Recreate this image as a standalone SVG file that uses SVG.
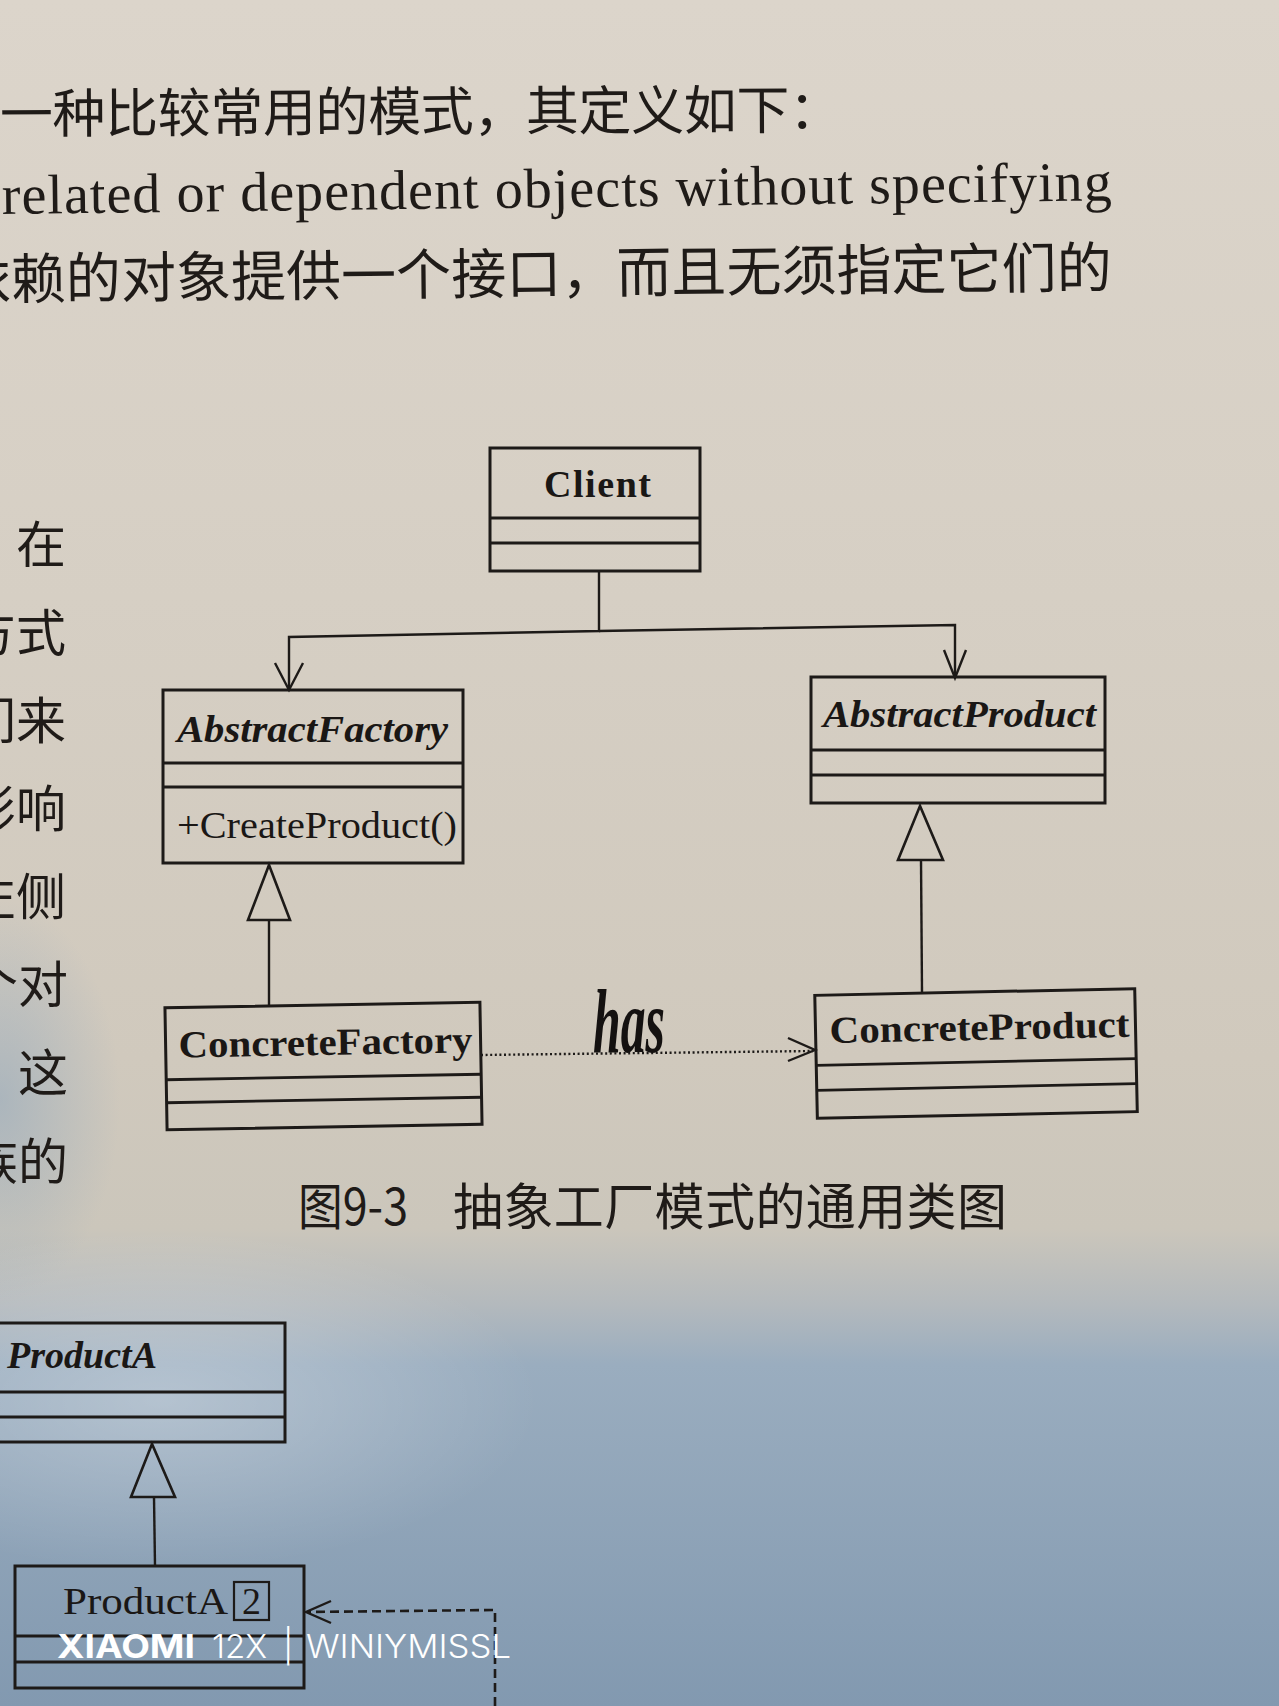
<svg xmlns="http://www.w3.org/2000/svg" width="1279" height="1706" viewBox="0 0 1279 1706">
  <defs>
    <linearGradient id="paper" x1="0" y1="0" x2="0" y2="1">
      <stop offset="0" stop-color="#dcd5cb"/>
      <stop offset="0.35" stop-color="#d6cfc4"/>
      <stop offset="0.62" stop-color="#d0c9bd"/>
      <stop offset="0.72" stop-color="#cbc6bb"/>
      <stop offset="0.765" stop-color="#b3b9bd"/>
      <stop offset="0.80" stop-color="#9aadbf"/>
      <stop offset="1" stop-color="#8299b0"/>
    </linearGradient>
    <radialGradient id="leftShade" cx="0.5" cy="0.5" r="0.5">
      <stop offset="0" stop-color="#8ea6bd" stop-opacity="0.55"/>
      <stop offset="1" stop-color="#8ea6bd" stop-opacity="0"/>
    </radialGradient>
    <radialGradient id="glow" cx="0.5" cy="0.5" r="0.5">
      <stop offset="0" stop-color="#ffffff" stop-opacity="0.28"/>
      <stop offset="1" stop-color="#ffffff" stop-opacity="0"/>
    </radialGradient>
    <style>
      .box { fill: none; stroke: #1d1a18; stroke-width: 3; }
      .div { stroke: #1d1a18; stroke-width: 2.8; fill: none; }
      .ln { fill: none; stroke: #1d1a18; stroke-width: 2.4; }
      .tri { fill: none; stroke: #1d1a18; stroke-width: 2.6; stroke-linejoin: miter; }
      .dot { fill: none; stroke: #1d1a18; stroke-width: 2.4; stroke-dasharray: 2 2.6; }
      .dash { fill: none; stroke: #1d1a18; stroke-width: 2.6; stroke-dasharray: 9 5; }
      .cls { font-family: "Liberation Serif", "Times New Roman", serif; font-size: 38px; fill: #1a1715; font-weight: bold; }
      .abs { font-style: italic; }
      .reg { font-weight: normal; }
      .cjk { font-family: "Noto Sans CJK SC", sans-serif; fill: #1f1b18; }
      .en { font-family: "Liberation Serif", "Times New Roman", serif; fill: #1f1b18; }
      .wm { font-family: Inter, "Noto Sans", sans-serif; fill: #ffffff; font-size: 33px; }
    </style>
  </defs>

  <!-- paper background -->
  <rect x="0" y="0" width="1279" height="1706" fill="url(#paper)"/>
  <ellipse cx="0" cy="1100" rx="120" ry="200" fill="url(#leftShade)"/>
  <ellipse cx="160" cy="1400" rx="380" ry="170" fill="url(#glow)"/>

  <!-- body text -->
  <g id="body-text">
    <text class="cjk" x="0" y="133" font-size="53" textLength="842" lengthAdjust="spacing" transform="rotate(-0.3 0 133)">一种比较常用的模式，其定义如下：</text>
    <text class="en" x="2" y="214" font-size="56" textLength="1110" lengthAdjust="spacing" transform="rotate(-0.7 0 214)">related or dependent objects without specifying</text>
    <text class="cjk" x="-44" y="299" font-size="55" textLength="1156" lengthAdjust="spacing" transform="rotate(-0.6 0 299)">依赖的对象提供一个接口，而且无须指定它们的</text>
    <text class="cjk" x="66" y="563" font-size="50" text-anchor="end">在</text>
    <text class="cjk" x="66" y="651" font-size="50" text-anchor="end">方式</text>
    <text class="cjk" x="66" y="739" font-size="50" text-anchor="end">们来</text>
    <text class="cjk" x="66" y="827" font-size="50" text-anchor="end">影响</text>
    <text class="cjk" x="66" y="915" font-size="50" text-anchor="end">左侧</text>
    <text class="cjk" x="68" y="1003" font-size="50" text-anchor="end">个对</text>
    <text class="cjk" x="68" y="1091" font-size="50" text-anchor="end">这</text>
    <text class="cjk" x="68" y="1180" font-size="50" text-anchor="end">族的</text>
    <text class="cjk" x="298" y="1225" font-size="50" textLength="110" lengthAdjust="spacingAndGlyphs">图9-3</text>
    <text class="cjk" x="453" y="1225" font-size="50" textLength="554" lengthAdjust="spacing">抽象工厂模式的通用类图</text>
  </g>

  <!-- connectors -->
  <g id="connectors">
    <!-- Client associations -->
    <path class="ln" d="M599,571 L599,631 L289,637 L289,690"/>
    <path class="ln" d="M275,663 L289,690 L303,663"/>
    <path class="ln" d="M599,631 L955,625 L955,678"/>
    <path class="ln" d="M944,650 L955,678 L966,650"/>
    <!-- generalizations -->
    <polygon class="tri" points="269,865 248,920 290,920"/>
    <path class="ln" d="M269,920 L269,1005"/>
    <polygon class="tri" points="920,806 898,860 943,860"/>
    <path class="ln" d="M921,860 L922,992"/>
    <!-- ConcreteFactory has ConcreteProduct -->
    <path class="dot" d="M481,1055 L813,1051"/>
    <path class="ln" d="M788,1038 L815,1050 L788,1061"/>
    <!-- bottom figure -->
    <polygon class="tri" points="152,1444 131,1497 175,1497"/>
    <path class="ln" d="M154,1497 L155,1566"/>
    <path class="dash" d="M495,1706 L495,1610 L308,1612"/>
    <path class="ln" d="M331,1601 L306,1612 L331,1623"/>
  </g>

  <!-- handwritten label -->
  <text id="has-label" x="593" y="1052" font-family="Liberation Serif, serif" font-style="italic" font-weight="bold" font-size="92" textLength="72" lengthAdjust="spacingAndGlyphs" fill="#141110">has</text>

  <!-- nodes -->
  <g id="client">
    <rect class="box" x="490" y="448" width="210" height="123"/>
    <line class="div" x1="490" y1="518" x2="700" y2="518"/>
    <line class="div" x1="490" y1="543" x2="700" y2="543"/>
    <text class="cls" x="544" y="497" font-size="38" textLength="107" lengthAdjust="spacing">Client</text>
  </g>

  <g id="abstract-factory">
    <rect class="box" x="163" y="690" width="300" height="173"/>
    <line class="div" x1="163" y1="763" x2="463" y2="763"/>
    <line class="div" x1="163" y1="787" x2="463" y2="787"/>
    <text class="cls abs" x="177" y="742" textLength="271" lengthAdjust="spacingAndGlyphs">AbstractFactory</text>
    <text class="cls reg" x="177" y="838" textLength="280" lengthAdjust="spacingAndGlyphs">+CreateProduct()</text>
  </g>

  <g id="abstract-product">
    <rect class="box" x="811" y="677" width="294" height="126"/>
    <line class="div" x1="811" y1="750" x2="1105" y2="750"/>
    <line class="div" x1="811" y1="775" x2="1105" y2="775"/>
    <text class="cls abs" x="823" y="727" textLength="273" lengthAdjust="spacingAndGlyphs">AbstractProduct</text>
  </g>

  <g id="concrete-factory" transform="rotate(-1 323 1066)">
    <rect class="box" x="166" y="1005" width="315" height="122"/>
    <line class="div" x1="166" y1="1077" x2="481" y2="1077"/>
    <line class="div" x1="166" y1="1100" x2="481" y2="1100"/>
    <text class="cls" x="179" y="1055" textLength="294" lengthAdjust="spacingAndGlyphs">ConcreteFactory</text>
  </g>

  <g id="concrete-product" transform="rotate(-1.2 976 1052)">
    <rect class="box" x="816" y="992" width="320" height="123"/>
    <line class="div" x1="816" y1="1062" x2="1136" y2="1062"/>
    <line class="div" x1="816" y1="1087" x2="1136" y2="1087"/>
    <text class="cls" x="830" y="1040" textLength="300" lengthAdjust="spacingAndGlyphs">ConcreteProduct</text>
  </g>

  <g id="abstract-product-a">
    <rect class="box" x="-10" y="1323" width="295" height="119"/>
    <line class="div" x1="-10" y1="1392" x2="285" y2="1392"/>
    <line class="div" x1="-10" y1="1417" x2="285" y2="1417"/>
    <text class="cls abs" x="157" y="1368" text-anchor="end">ProductA</text>
  </g>

  <g id="product-a2">
    <rect class="box" x="15" y="1566" width="289" height="122"/>
    <line class="div" x1="15" y1="1636" x2="304" y2="1636"/>
    <line class="div" x1="15" y1="1662" x2="304" y2="1662"/>
    <text class="cls reg" x="63" y="1614" font-size="42" textLength="165" lengthAdjust="spacingAndGlyphs">ProductA</text>
    <rect x="234" y="1582" width="35" height="38" fill="none" stroke="#1d1a18" stroke-width="2.2"/>
    <text class="cls reg" x="251.5" y="1614" font-size="40" text-anchor="middle">2</text>
  </g>

  <!-- camera watermark -->
  <g id="watermark">
    <text class="wm" x="57" y="1658" font-weight="bold" textLength="138" lengthAdjust="spacingAndGlyphs">XIAOMI</text>
    <text class="wm" x="212" y="1658" font-weight="300" textLength="55" lengthAdjust="spacingAndGlyphs">12X</text>
    <text class="wm" x="283" y="1658" font-weight="300">|</text>
    <text class="wm" x="306" y="1658" font-weight="300" textLength="205" lengthAdjust="spacingAndGlyphs">WINIYMISSL</text>
  </g>
</svg>
